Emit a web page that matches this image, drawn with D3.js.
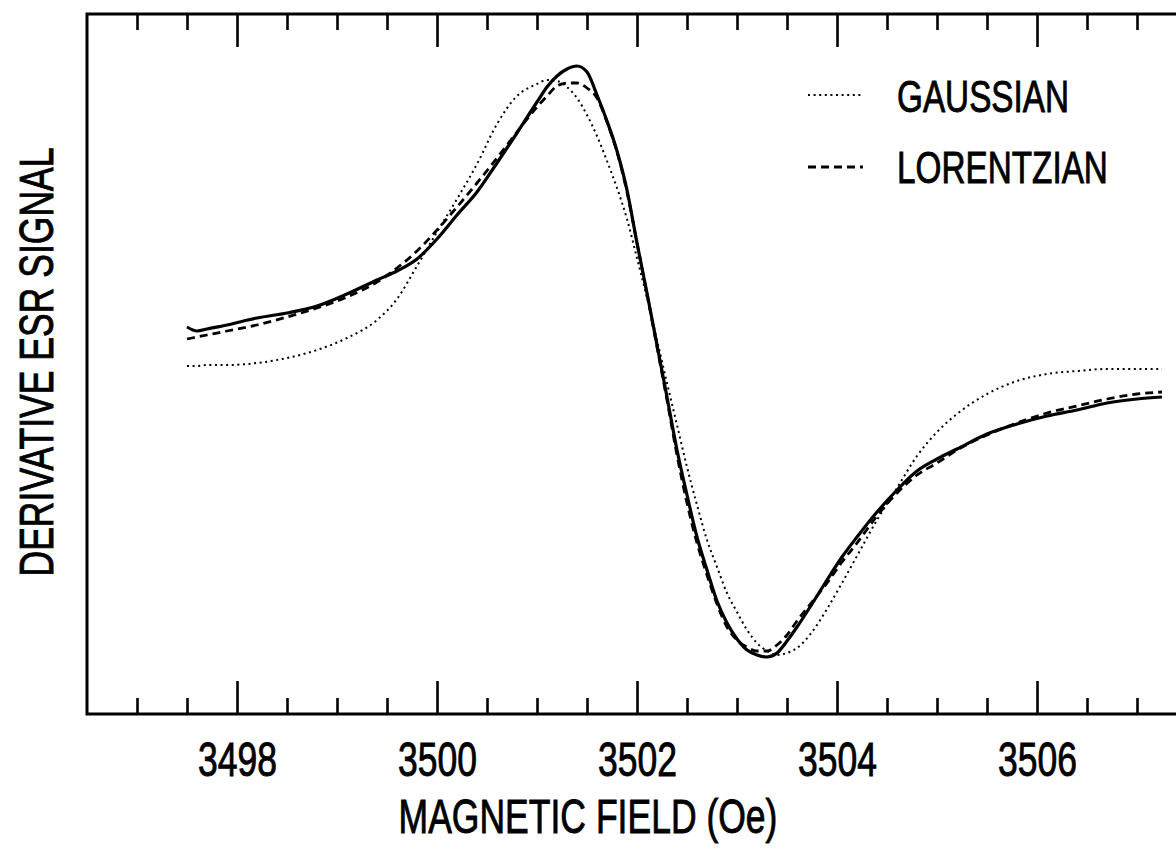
<!DOCTYPE html>
<html><head><meta charset="utf-8">
<script src="https://cdn.jsdelivr.net/npm/d3@7"></script>
<style>body{margin:0;background:#fff}svg{display:block}</style>
</head><body><svg id="chart" width="1176" height="849"></svg>
<script>
// Magnetic field (Oe)
const field = [3497.5,3497.6,3497.7,3497.9,3498.2,3498.5,3498.8,3499.1,3499.4,3499.6,3499.8,
  3500.0,3500.2,3500.4,3500.6,3500.8,3501.0,3501.1,3501.2,3501.3,3501.4,3501.5,3501.6,3501.7,3501.8,3501.9,
  3502.0,3502.1,3502.2,3502.3,3502.4,3502.5,3502.6,3502.7,3502.8,3502.9,3503.0,3503.1,3503.2,3503.3,3503.4,
  3503.5,3503.6,3503.75,3503.9,3504.05,3504.2,3504.4,3504.6,3504.8,3505.0,3505.2,3505.5,3505.8,3506.1,
  3506.4,3506.7,3507.0,3507.25];
// Derivative ESR signal (arbitrary units)
const experimental = [0.40,0.36,0.38,0.42,0.49,0.54,0.61,0.73,0.87,0.96,1.08,1.28,1.52,1.75,2.04,2.34,2.65,2.80,
  2.91,2.98,3.01,2.95,2.72,2.46,2.16,1.77,1.24,0.74,0.22,-0.30,-0.83,-1.28,-1.70,-2.03,-2.34,-2.56,-2.72,-2.83,
  -2.88,-2.90,-2.86,-2.74,-2.60,-2.37,-2.13,-1.90,-1.70,-1.45,-1.23,-1.04,-0.92,-0.82,-0.67,-0.57,-0.49,-0.43,
  -0.36,-0.32,-0.30];
const lorentzian = [0.28,0.30,0.32,0.36,0.42,0.50,0.59,0.70,0.85,0.99,1.16,1.37,1.60,1.84,2.09,2.35,2.60,2.71,
  2.81,2.84,2.84,2.79,2.69,2.45,2.15,1.75,1.24,0.73,0.20,-0.33,-0.88,-1.36,-1.76,-2.08,-2.37,-2.60,-2.73,-2.80,
  -2.84,-2.84,-2.78,-2.68,-2.54,-2.35,-2.16,-1.95,-1.76,-1.49,-1.26,-1.08,-0.96,-0.83,-0.68,-0.56,-0.46,-0.39,
  -0.32,-0.27,-0.25];
const gaussian = [0.01,0.01,0.02,0.02,0.04,0.09,0.17,0.29,0.47,0.68,1.01,1.35,1.68,2.03,2.43,2.71,2.83,2.87,
  2.86,2.80,2.69,2.52,2.31,2.06,1.79,1.48,1.09,0.69,0.27,-0.16,-0.58,-1.00,-1.38,-1.73,-2.00,-2.26,-2.45,-2.63,
  -2.76,-2.84,-2.88,-2.86,-2.81,-2.65,-2.42,-2.16,-1.89,-1.53,-1.21,-0.89,-0.65,-0.47,-0.27,-0.14,-0.07,-0.04,
  -0.02,-0.02,-0.02];
const majorTicks = [3498,3500,3502,3504,3506];
const minorTicks = [3497,3497.5,3498.5,3499,3499.5,3500.5,3501,3501.5,3502.5,3503,3503.5,3504.5,3505,3505.5,3506.5,3507];
const legendLabels = ["GAUSSIAN","LORENTZIAN"];
const xTitle = "MAGNETIC FIELD (Oe)";
const yTitle = "DERIVATIVE ESR SIGNAL";

const svg = d3.select("#chart");
const FONT = "'Liberation Sans', Arial, Helvetica, sans-serif";
const SQ = 0.74; // horizontal condensing of the lettering
const L = 87, T = 14, R = 1187, B = 714;
const x = d3.scaleLinear().domain([3496.5, 3507.5]).range([L, R]);
const y = d3.scaleLinear().domain([-3.47, 3.53]).range([B, T]);

function ink(sel){ sel.attr("fill","#000").attr("stroke","#000").attr("stroke-width",0.9); }

// frame
svg.append("path").attr("d", `M${R},${T}H${L}V${B}H${R}`)
  .attr("fill","none").attr("stroke","#000").attr("stroke-width",3);

function styleAxis(g){ g.select(".domain").remove(); g.selectAll(".tick line").attr("stroke","#000").attr("stroke-width",2.6); }

// bottom axis
const gb = svg.append("g").attr("transform",`translate(0,${B})`)
  .call(d3.axisBottom(x).tickValues(majorTicks).tickSize(-33).tickFormat(d3.format("d")));
styleAxis(gb);
gb.selectAll(".tick text").attr("y", 0).attr("dy", null)
  .attr("transform", `translate(0,62) scale(${SQ},1)`)
  .attr("font-family", FONT).attr("font-size", 48).call(ink);
const gbm = svg.append("g").attr("transform",`translate(0,${B})`)
  .call(d3.axisBottom(x).tickValues(minorTicks).tickSize(-16).tickFormat(""));
styleAxis(gbm);
// top axis
const gt = svg.append("g").attr("transform",`translate(0,${T})`)
  .call(d3.axisTop(x).tickValues(majorTicks).tickSize(-33).tickFormat(""));
styleAxis(gt);
const gtm = svg.append("g").attr("transform",`translate(0,${T})`)
  .call(d3.axisTop(x).tickValues(minorTicks).tickSize(-16).tickFormat(""));
styleAxis(gtm);

// titles
svg.append("text").attr("transform",`translate(588,833) scale(${SQ},1)`).attr("text-anchor","middle")
  .attr("font-family",FONT).attr("font-size",48).call(ink).text(xTitle);
svg.append("text").attr("transform",`translate(53,362) rotate(-90) scale(${SQ},1)`).attr("text-anchor","middle")
  .attr("font-family",FONT).attr("font-size",48).call(ink).text(yTitle);

// curves
const pts = vals => field.map((f,i)=>({f, v: vals[i]}));
const line = d3.line().x(d=>x(d.f)).y(d=>y(d.v)).curve(d3.curveMonotoneX);
const series = [
  {name: legendLabels[0], vals: gaussian, w: 2, dash: "2,3.6"},
  {name: legendLabels[1], vals: lorentzian, w: 2.8, dash: "8,5"},
  {name: "experiment", vals: experimental, w: 3.2, dash: null}
];
series.forEach(s => {
  svg.append("path").datum(pts(s.vals)).attr("d", line)
    .attr("fill","none").attr("stroke","#000").attr("stroke-width", s.w)
    .attr("stroke-dasharray", s.dash).attr("stroke-linejoin","round");
});

// legend
const legY = [95, 167], legBase = [112, 183];
series.slice(0,2).forEach((s,i) => {
  svg.append("line").attr("x1",808).attr("x2",863).attr("y1",legY[i]).attr("y2",legY[i])
    .attr("stroke","#000").attr("stroke-width", s.w).attr("stroke-dasharray", s.dash);
  svg.append("text").attr("transform",`translate(897,${legBase[i]}) scale(${SQ},1)`)
    .attr("font-family",FONT).attr("font-size",45).call(ink).text(s.name);
});
</script></body></html>
